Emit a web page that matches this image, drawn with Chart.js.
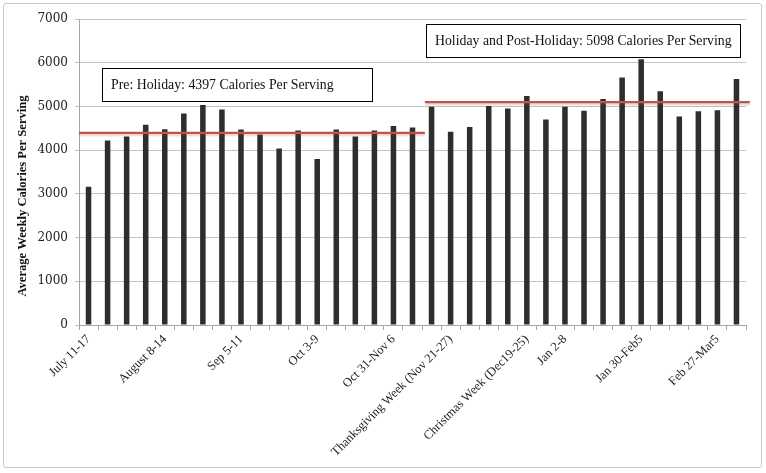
<!DOCTYPE html>
<html>
<head>
<meta charset="utf-8">
<script src="https://cdn.jsdelivr.net/npm/chart.js@4.4.1/dist/chart.umd.min.js"></script>
<style>
html,body{margin:0;padding:0;background:#fff}
#wrap{position:relative;width:766px;height:473px}
#frame{position:absolute;left:3px;top:3px;width:757px;height:463px;border:1px solid #c9c9c9;border-radius:3px;pointer-events:none}
</style>
</head>
<body>
<div id="wrap"><canvas id="chart"></canvas><div id="frame"></div></div>
<script>
// weekly bars, only some weeks carry a label on the axis
const weekLabels = [
"July 11-17","","","",
"August 8-14","","","",
"Sep 5-11","","","",
"Oct 3-9","","","",
"Oct 31-Nov 6","","",
"Thanksgiving Week (Nov 21-27)","","","",
"Christmas Week (Dec19-25)","",
"Jan 2-8","","","",
"Jan 30-Feb5","","","",
"Feb 27-Mar5",""
]

const calories = [
3160,4220,4310,4580,4480,4840,5030,4930,4470,4360,
4040,4450,3800,4470,4310,4450,4550,4520,4990,4420,
4530,5010,4950,5240,4700,4990,4900,5170,5660,6080,
5350,4770,4890,4910,5630
]

const periodNames = ["Pre: Holiday","Holiday and Post-Holiday"]
const periodMeans = [4397,5098]
const periodFrom = [-0.5,17.65]
const periodTo = [17.65,34.7]

const yMax = 7000
const yStep = 1000
const yTitle = "Average Weekly Calories Per Serving"

let serif = "'Liberation Serif', 'DejaVu Serif', serif"

let boxPlugin = {
id:"periodBoxes",
afterDraw(chart){
let ctx = chart.ctx
let boxes = [
{x:102,y:68,w:270,h:33},
{x:426,y:24,w:314,h:33}
]
ctx.save()
ctx.font = "13.8px " + serif
ctx.textBaseline = "middle"
ctx.textAlign = "left"
boxes.forEach((b,i)=>{
ctx.fillStyle = "#fff"
ctx.fillRect(b.x,b.y,b.w,b.h)
ctx.strokeStyle = "#000"
ctx.lineWidth = 1
ctx.strokeRect(b.x+0.5,b.y+0.5,b.w,b.h)
ctx.fillStyle = "#111"
ctx.fillText(periodNames[i] + ": " + periodMeans[i] + " Calories Per Serving", b.x+9, b.y+b.h/2+1)
})

// y axis title, sits a bit below the middle like the original
ctx.translate(23,196)
ctx.rotate(-Math.PI/2)
ctx.font = "bold 12.6px " + serif
ctx.textAlign = "center"
ctx.fillStyle = "#111"
ctx.fillText(yTitle,0,0)
ctx.restore()
}
}

let shadowPlugin = {
id:"lineShadow",
beforeDatasetDraw(chart,args){
if(args.meta.type !== "line") return
let ctx = chart.ctx
ctx.save()
ctx.shadowColor = "rgba(150,60,60,0.25)"
ctx.shadowOffsetY = 2
ctx.shadowBlur = 2
},
afterDatasetDraw(chart,args){
if(args.meta.type !== "line") return
chart.ctx.restore()
}
}

let lineSets = periodMeans.map((m,i)=>({
type:"line",
xAxisID:"x2",
data:[{x:periodFrom[i],y:m},{x:periodTo[i],y:m}],
borderColor:"#bc5550",
borderWidth:2.2,
pointRadius:0,
fill:false,
clip:false,
order:0
}))

new Chart(document.getElementById("chart"),{
type:"bar",
data:{
labels: weekLabels,
datasets:[
{
data: calories,
backgroundColor:"#2e2e2e",
barPercentage:0.29,
categoryPercentage:1,
grouped:false,
order:1
},
...lineSets
]
},
options:{
responsive:true,
maintainAspectRatio:false,
animation:false,
layout:{padding:{top:19,right:20,left:0,bottom:0}},
plugins:{legend:{display:false},tooltip:{enabled:false}},
scales:{
x:{
grid:{display:true,drawOnChartArea:false,offset:true,color:"#a6a6a6",tickLength:5},
border:{color:"#a6a6a6"},
ticks:{autoSkip:false,minRotation:45,maxRotation:45,padding:2,color:"#222",font:{family:serif,size:12.5}},
afterFit(s){ s.height = 148 }
},
x2:{
type:"linear",
display:false,
offset:false,
min:-0.5,
max:calories.length-0.5
},
y:{
min:0,
max:yMax,
ticks:{stepSize:yStep,padding:7,color:"#222",font:{family:"'DejaVu Serif', serif",size:12},callback:v=>String(v)},
grid:{color:"#c4c4c4",tickLength:4},
border:{color:"#a6a6a6"},
afterFit(s){ s.width = 79 }
}
}
},
plugins:[shadowPlugin,boxPlugin]
})
</script>
</body>
</html>
